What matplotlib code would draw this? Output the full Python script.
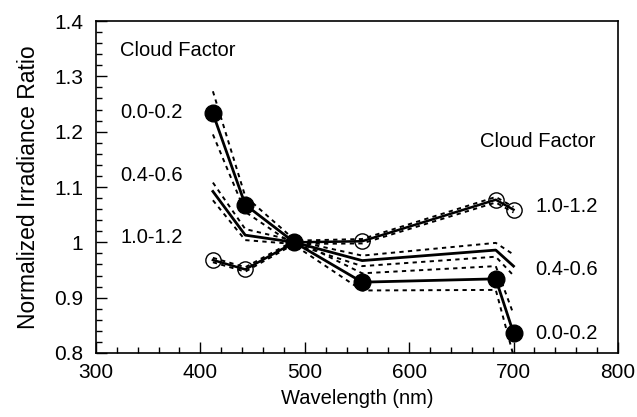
import numpy as np
import matplotlib.pyplot as plt

plt.rcParams['font.family'] = ['Liberation Sans', 'DejaVu Sans']

wavelength = [412, 443, 490, 555, 683, 700]

# cloud factor 0.0-0.2
cf_low = [1.233, 1.068, 1.000, 0.928, 0.934, 0.836]
cf_low_hi = [1.273, 1.083, 1.005, 0.944, 0.957, 0.870]
cf_low_lo = [1.195, 1.055, 0.995, 0.913, 0.914, 0.795]

# cloud factor 0.4-0.6
cf_mid = [1.092, 1.013, 1.000, 0.967, 0.986, 0.957]
cf_mid_hi = [1.108, 1.024, 1.003, 0.976, 0.999, 0.978]
cf_mid_lo = [1.076, 1.004, 0.997, 0.957, 0.974, 0.940]

# cloud factor 1.0-1.2
cf_high = [0.968, 0.951, 1.000, 1.002, 1.077, 1.059]
cf_high_hi = [0.972, 0.955, 1.003, 1.006, 1.082, 1.064]
cf_high_lo = [0.964, 0.947, 0.997, 0.998, 1.072, 1.054]

fig = plt.figure(figsize=(6.37, 4.17), dpi=100)
ax = fig.add_axes([0.1507, 0.1535, 0.8193, 0.7961])

dash = (0, (2.2, 2.2))
for hi, lo in [(cf_low_hi, cf_low_lo), (cf_mid_hi, cf_mid_lo), (cf_high_hi, cf_high_lo)]:
    ax.plot(wavelength, hi, color='black', lw=1.4, linestyle=dash)
    ax.plot(wavelength, lo, color='black', lw=1.4, linestyle=dash)

ax.plot(wavelength, cf_mid, color='black', lw=2.0)
ax.plot(wavelength, cf_high, color='black', lw=1.8, marker='o', ms=11,
        mfc='none', mec='black', mew=1.0)
ax.plot(wavelength, cf_low, color='black', lw=2.0, marker='o', ms=12,
        mfc='black', mec='black')

fs = 14.5
ax.text(323, 1.346, 'Cloud Factor', fontsize=fs, va='center')
ax.text(323, 1.234, '0.0-0.2', fontsize=fs, va='center')
ax.text(323, 1.120, '0.4-0.6', fontsize=fs, va='center')
ax.text(323, 1.008, '1.0-1.2', fontsize=fs, va='center')
ax.text(668, 1.183, 'Cloud Factor', fontsize=fs, va='center')
ax.text(721, 1.064, '1.0-1.2', fontsize=fs, va='center')
ax.text(721, 0.950, '0.4-0.6', fontsize=fs, va='center')
ax.text(721, 0.836, '0.0-0.2', fontsize=fs, va='center')

ax.set_xlim(300, 800)
ax.set_ylim(0.8, 1.4)
ax.set_xticks([300, 400, 500, 600, 700, 800])
ax.set_yticks([0.8, 0.9, 1.0, 1.1, 1.2, 1.3, 1.4])
ax.set_yticklabels(['0.8', '0.9', '1', '1.1', '1.2', '1.3', '1.4'])
ax.set_xticks(np.arange(300, 801, 20), minor=True)
ax.set_yticks(np.arange(0.8, 1.401, 0.02), minor=True)
ax.tick_params(which='both', direction='in', top=False, right=False,
               labelsize=15, width=1.0)
ax.tick_params(which='major', length=8)
ax.tick_params(which='minor', length=4)
ax.tick_params(axis='x', pad=7)
ax.tick_params(axis='y', pad=9)
for s in ax.spines.values():
    s.set_linewidth(1.2)

ax.set_xlabel('Wavelength (nm)', fontsize=14.5, labelpad=5)
ax.set_ylabel('Normalized Irradiance Ratio', fontsize=16.5, labelpad=10)

fig.savefig('out.png', dpi=100)
